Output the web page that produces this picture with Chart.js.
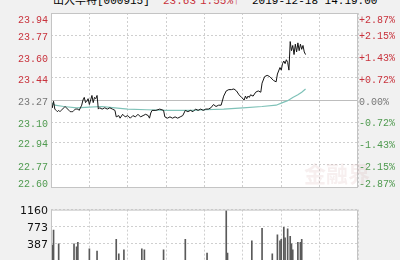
<!DOCTYPE html>
<html>
<head>
<meta charset="utf-8">
<script src="https://cdn.jsdelivr.net/npm/chart.js@4/dist/chart.umd.min.js"></script>
<style>
  html, body { margin: 0; padding: 0; }
  body { width: 400px; height: 260px; overflow: hidden; background: #f1f1f1; position: relative; }
  canvas { position: absolute; left: 0; }
  #priceChart { top: 0; }
  #volChart { top: 200px; }
  .head { position: absolute; top: -4px; font: 11px/11px "Liberation Mono", "Noto Sans CJK SC", monospace; white-space: nowrap; }
  .red { color: #c8323c; }
  #mark { position: absolute; left: 304px; top: 156px; font: bold 22px "Noto Sans CJK SC", sans-serif; color: rgba(215, 175, 175, 0.2); }
</style>
</head>
<body>
<div class="head" style="left:53px">山大华特[000915]</div>
<div class="head red" style="left:163px">23.63</div>
<div class="head red" style="left:200px">1.55%↑</div>
<div class="head" style="left:252px">2019-12-18 14:19:00</div>
<canvas id="priceChart" width="400" height="200"></canvas>
<canvas id="volChart" width="400" height="70"></canvas>
<div id="mark">金融界</div>
<script>
const prevClose = 23.27;

// minutes since 9:30 (trading minutes, 240 per day)
const priceMinutes = [0, 1, 2, 3, 4, 5, 6, 7, 8, 9, 10, 11, 12, 13, 14, 15, 16, 17, 18, 19, 20, 21, 22, 23, 24,
    25, 26, 27, 28, 29, 30, 31, 32, 33, 34, 35, 36, 37, 38, 40, 42, 44, 46, 48, 50, 51, 53, 54, 56, 58, 60,
    62, 64, 66, 68, 70, 72, 74, 76, 77, 78, 79, 82, 85, 88, 89, 91, 93, 95, 97, 99, 101, 103, 105, 107, 109,
    111, 113, 115, 117, 119, 121, 123, 125, 127, 129, 131, 133, 135, 137, 139, 141, 143, 145, 147, 149, 151,
    152, 153, 154, 155, 156, 158, 160, 162, 164, 165, 167, 169, 171, 172, 174, 176, 177, 179, 180, 181, 182,
    183, 184, 185, 186, 187, 188, 189, 190, 191, 192, 193, 194, 195, 196, 197, 198, 199];
const priceValues = [23.27, 23.21, 23.26, 23.20, 23.19, 23.18, 23.19, 23.18, 23.19, 23.20, 23.21, 23.22, 23.21,
    23.20, 23.19, 23.18, 23.18, 23.18, 23.19, 23.20, 23.20, 23.20, 23.19, 23.21, 23.23, 23.27, 23.29, 23.25,
    23.26, 23.28, 23.235, 23.27, 23.305, 23.25, 23.29, 23.28, 23.305, 23.20, 23.21, 23.20, 23.21, 23.20, 23.21,
    23.20, 23.19, 23.14, 23.15, 23.13, 23.16, 23.14, 23.15, 23.13, 23.15, 23.14, 23.16, 23.14, 23.15, 23.16,
    23.15, 23.13, 23.17, 23.19, 23.19, 23.20, 23.19, 23.14, 23.13, 23.14, 23.13, 23.14, 23.13, 23.14, 23.15,
    23.19, 23.18, 23.19, 23.18, 23.20, 23.19, 23.20, 23.19, 23.20, 23.20, 23.21, 23.235, 23.22, 23.23, 23.23,
    23.30, 23.34, 23.35, 23.35, 23.355, 23.34, 23.31, 23.29, 23.27, 23.30, 23.28, 23.30, 23.29, 23.31, 23.30,
    23.33, 23.34, 23.33, 23.40, 23.45, 23.46, 23.45, 23.44, 23.42, 23.41, 23.47, 23.52, 23.50, 23.55, 23.57,
    23.55, 23.58, 23.56, 23.50, 23.72, 23.65, 23.69, 23.62, 23.70, 23.64, 23.71, 23.65, 23.70, 23.66, 23.69,
    23.64, 23.62];

const avgMinutes = [0, 3, 10, 20, 30, 40, 50, 60, 75, 90, 110, 120, 135, 150, 165, 176, 181, 185, 189, 193, 196, 199];
const avgValues = [23.25, 23.23, 23.22, 23.21, 23.215, 23.22, 23.21, 23.20, 23.195, 23.19, 23.19, 23.195, 23.20,
    23.21, 23.22, 23.23, 23.25, 23.265, 23.29, 23.31, 23.33, 23.355];

// only the bars tall enough to show above the cut-off bottom edge
const volMinutes = [1, 2, 6, 18, 20, 21, 30, 36, 51, 53, 57, 71, 73, 88, 105, 122, 137, 138, 157, 165, 173,
    177, 179, 180, 182, 183, 185, 187, 188, 189, 193, 195, 196];
const volValues = [350, 690, 380, 380, 310, 413, 264, 210, 482, 150, 244, 264, 244, 244, 482, 170, 1140, 170,
    448, 733, 150, 584, 448, 482, 753, 516, 719, 550, 380, 244, 413, 413, 482];

const priceTicks = [22.60, 22.77, 22.94, 23.10, 23.27, 23.44, 23.60, 23.77, 23.94];
const pctTicks = [-2.87, -2.15, -1.43, -0.72, 0, 0.72, 1.43, 2.15, 2.87];
const volTicks = [0, 387, 773, 1160];
const timeTicks = [0, 30, 60, 90, 120, 150, 180, 210, 240];

const RED = "#c8323c";
const GREEN = "#4f9a4f";
const GRAY = "#777777";
const GRID = "#cfcfcf";

function toPoints(xs, ys) {
    return xs.map((x, i) => ({ x: x, y: ys[i] }));
}

function upDownColor(v, mid) {
    if (v > mid + 0.0001) return RED;
    if (v < mid - 0.0001) return GREEN;
    return GRAY;
}

// white plot background and grey frame around the chart area
const framePlugin = {
    id: "frame",
    beforeDraw(chart) {
        const a = chart.chartArea;
        const ctx = chart.ctx;
        ctx.save();
        ctx.fillStyle = "#ffffff";
        ctx.fillRect(a.left, a.top, a.right - a.left, a.bottom - a.top);
        ctx.restore();
    },
    afterDraw(chart) {
        const a = chart.chartArea;
        const ctx = chart.ctx;
        ctx.save();
        ctx.strokeStyle = "#c4c4c4";
        ctx.lineWidth = 1;
        ctx.strokeRect(a.left + 0.5, a.top + 0.5, a.right - a.left - 1, a.bottom - a.top);
        ctx.restore();
    }
};

function timeAxis() {
    return {
        type: "linear",
        min: 0,
        max: 240,
        offset: false,
        afterBuildTicks: (s) => { s.ticks = timeTicks.map(v => ({ value: v })); },
        afterFit: (s) => { s.height = 0; },
        ticks: { display: false },
        grid: { color: GRID, drawTicks: false, offset: false },
        border: { display: false, dash: [2, 2] }
    };
}

const monoFont = { family: "'Liberation Mono', monospace", size: 10, lineHeight: 1 };

new Chart(document.getElementById("priceChart").getContext("2d"), {
    type: "line",
    data: {
        datasets: [
            {
                label: "price",
                data: toPoints(priceMinutes, priceValues),
                borderColor: "#151515",
                borderWidth: 1,
                pointRadius: 0,
                tension: 0,
                yAxisID: "y"
            },
            {
                label: "avg",
                data: toPoints(avgMinutes, avgValues),
                borderColor: "#7fc2b8",
                borderWidth: 1.2,
                pointRadius: 0,
                tension: 0,
                yAxisID: "y"
            }
        ]
    },
    options: {
        responsive: false,
        animation: false,
        devicePixelRatio: 1,
        layout: { padding: { top: 9, bottom: 3 } },
        plugins: { legend: { display: false }, tooltip: { enabled: false } },
        scales: {
            x: timeAxis(),
            y: {
                position: "left",
                min: 22.60,
                max: 23.94,
                afterBuildTicks: (s) => { s.ticks = priceTicks.map(v => ({ value: v })); },
                afterFit: (s) => { s.width = 51; },
                ticks: {
                    autoSkip: false,
                    padding: 3,
                    labelOffset: 2,
                    font: monoFont,
                    color: (c) => upDownColor(c.tick.value, prevClose),
                    callback: (v, i, all) => {
                        const t = v.toFixed(2);
                        if (i === all.length - 1) return ["", t];
                        if (i === 0) return [t, ""];
                        return t;
                    }
                },
                grid: {
                    drawTicks: false,
                    color: (c) => Math.abs(c.tick.value - prevClose) < 0.001 ? "#bdbdbd" : GRID
                },
                border: {
                    display: false,
                    dash: (c) => Math.abs(c.tick.value - prevClose) < 0.001 ? [] : [2, 2]
                }
            },
            pct: {
                position: "right",
                min: -2.87,
                max: 2.87,
                afterBuildTicks: (s) => { s.ticks = pctTicks.map(v => ({ value: v })); },
                afterFit: (s) => { s.width = 42; },
                ticks: {
                    autoSkip: false,
                    padding: 1,
                    labelOffset: 2,
                    font: monoFont,
                    color: (c) => upDownColor(c.tick.value, 0),
                    callback: (v, i, all) => {
                        const t = (v > 0 ? "+" : "") + v.toFixed(2) + "%";
                        if (i === all.length - 1) return ["", t];
                        if (i === 0) return [t, ""];
                        return t;
                    }
                },
                grid: { display: false, drawTicks: false },
                border: { display: false }
            }
        }
    },
    plugins: [framePlugin]
});

new Chart(document.getElementById("volChart").getContext("2d"), {
    type: "bar",
    data: {
        datasets: [{
            label: "volume",
            data: toPoints(volMinutes, volValues),
            backgroundColor: "#5a5a5a",
            barThickness: 1
        }]
    },
    options: {
        responsive: false,
        animation: false,
        devicePixelRatio: 1,
        layout: { padding: { top: 9, bottom: 4, right: 42 } },
        plugins: { legend: { display: false }, tooltip: { enabled: false } },
        scales: {
            x: timeAxis(),
            y: {
                min: 0,
                max: 1160,
                afterBuildTicks: (s) => { s.ticks = volTicks.map(v => ({ value: v })); },
                afterFit: (s) => { s.width = 51; },
                ticks: {
                    autoSkip: false,
                    padding: 3,
                    labelOffset: 2,
                    color: "#111111",
                    font: { family: "'DejaVu Sans', sans-serif", size: 11 },
                    callback: (v) => v === 0 ? "" : String(v)
                },
                grid: { drawTicks: false, color: GRID },
                border: { display: false, dash: [2, 2] }
            }
        }
    },
    plugins: [framePlugin]
});
</script>
</body>
</html>
